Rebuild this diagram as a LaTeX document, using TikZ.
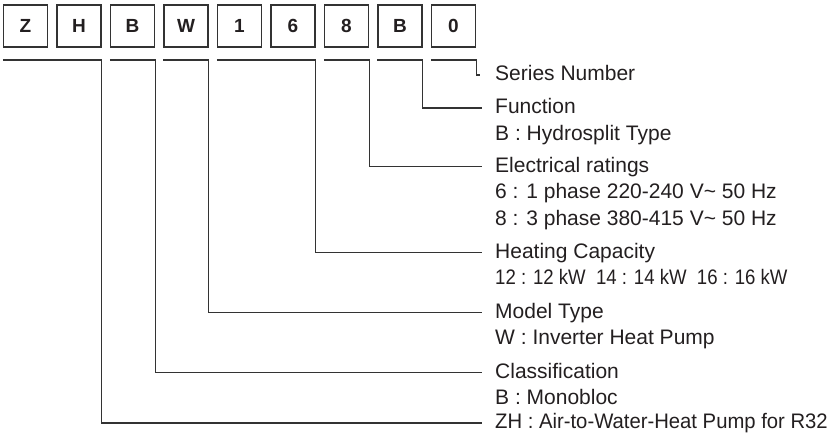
\documentclass[tikz,border=0pt]{standalone}
\usepackage{fontspec}
\setmainfont{Liberation Sans}
\usepackage{graphicx}
\definecolor{ink}{HTML}{231F20}
\definecolor{wire}{HTML}{333333}
\begin{document}
\begin{tikzpicture}[x=1pt,y=-1pt,
  codebox/.style={draw=wire, line width=1.1pt, minimum width=44pt, minimum height=42pt, inner sep=0pt,
    font=\fontsize{19}{21}\selectfont\bfseries, text=ink},
  lbl/.style={anchor=base west, inner sep=0pt, text height=15pt, text depth=4pt,
    font=\fontsize{21}{26}\selectfont, text=ink},
  conn/.style={draw=wire, line width=1.1pt}]
\useasboundingbox (0,0) rectangle (834,433);
% code boxes
\foreach \ch [count=\i] in {Z,H,B,W,1,6,8,B,0}{
  \node[codebox] (b\i) at ({25.5+53.5*(\i-1)},26) {\ch};
}
% labels
\node[lbl] (sn) at (495,80.5) {Series Number};
\node[lbl] (fn) at (495,113.5) {Function};
\node[lbl] (fn2) at (495,140) {B : Hydrosplit Type};
\node[lbl] (el) at (495,172) {Electrical ratings};
\node[lbl] (el2) at (495,198.5) {6 : 1 phase 220-240 V\char"007E\ 50 Hz};
\node[lbl] (el3) at (495,225) {8 : 3 phase 380-415 V\char"007E\ 50 Hz};
\node[lbl] (hc) at (495,258) {Heating Capacity};
\node[lbl] (hc2) at (495,284.5) {\scalebox{0.885}[1]{12 : 12 kW\ \ 14 : 14 kW\ \ 16 : 16 kW}};
\node[lbl] (mt) at (495,318) {Model Type};
\node[lbl] (mt2) at (495,344.5) {W : Inverter Heat Pump};
\node[lbl] (cl) at (495,378) {Classification};
\node[lbl] (cl2) at (495,404.5) {B : Monobloc};
\node[lbl] (zh) at (495,428.5) {\scalebox{0.965}[1]{ZH : Air-to-Water-Heat Pump for R32}};
% connectors
\draw[conn] (b9.south west |- 0,60) -- (b9.south east |- 0,60) -- (b9.south east |- sn.west) -- ([xshift=-15pt]sn.west);
\draw[conn] (b8.south west |- 0,60) -- (b8.south east |- 0,60) -- (b8.south east |- fn.west) -- ([xshift=-13pt]fn.west);
\draw[conn] (b7.south west |- 0,60) -- (b7.south east |- 0,60) -- (b7.south east |- el.west) -- ([xshift=-13pt]el.west);
\draw[conn] (b5.south west |- 0,60) -- (b6.south east |- 0,60) -- (b6.south east |- hc.west) -- ([xshift=-13pt]hc.west);
\draw[conn] (b4.south west |- 0,60) -- (b4.south east |- 0,60) -- (b4.south east |- mt.west) -- ([xshift=-13pt]mt.west);
\draw[conn] (b3.south west |- 0,60) -- (b3.south east |- 0,60) -- (b3.south east |- cl.west) -- ([xshift=-13pt]cl.west);
\draw[conn] (b1.south west |- 0,60) -- (b2.south east |- 0,60) -- (b2.south east |- zh.west) -- ([xshift=-13pt]zh.west);
\end{tikzpicture}
\end{document}
